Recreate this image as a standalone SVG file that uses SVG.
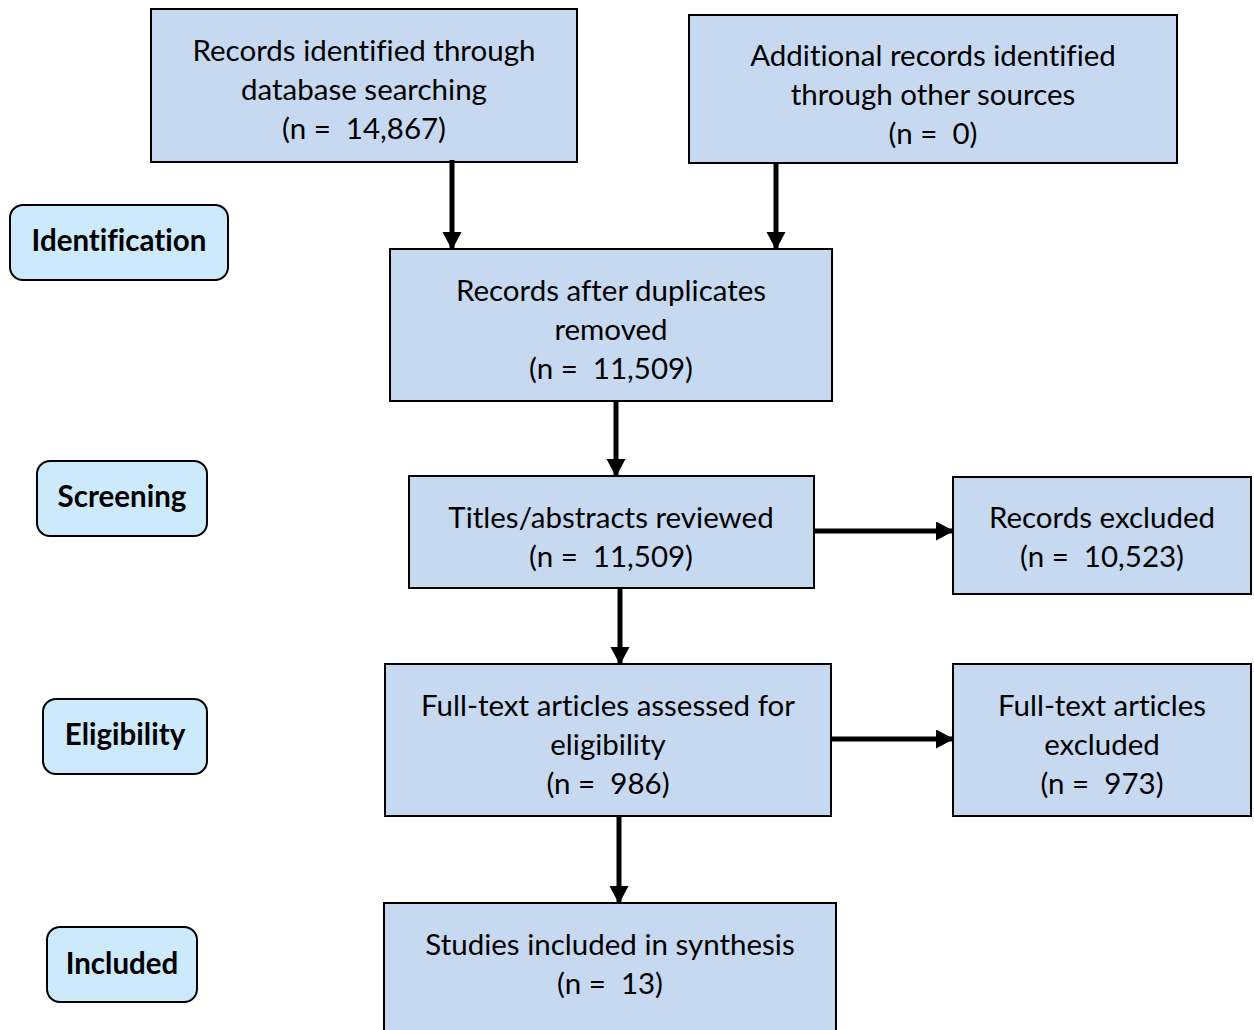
<svg xmlns="http://www.w3.org/2000/svg" width="1254" height="1030" viewBox="0 0 1254 1030">
  <style>
    .box { fill: #c6d9f1; stroke: #000; stroke-width: 2; }
    .stage { fill: #cde9fc; stroke: #000; stroke-width: 2; }
    .t { font-family: Lato, "Liberation Sans", sans-serif; font-size: 29.5px; fill: #000; text-anchor: middle; dominant-baseline: central; font-variant-ligatures: none; }
    .s { font-family: Lato, "Liberation Sans", sans-serif; font-size: 29.5px; font-weight: bold; fill: #000; text-anchor: middle; dominant-baseline: central; font-variant-ligatures: none; }
    .edge { stroke: #000; stroke-width: 5; fill: none; marker-end: url(#head); }
  </style>
  <defs>
    <marker id="head" markerUnits="userSpaceOnUse" markerWidth="20" markerHeight="20" refX="17" refY="9.5" orient="auto">
      <path d="M0,0 L18,9.5 L0,19 Z" fill="#000"/>
    </marker>
  </defs>
  <rect width="1254" height="1030" fill="#fff"/>

  <!-- phase labels -->
  <g id="stage-identification">
    <rect class="stage" x="10" y="205" width="218" height="75" rx="13"/>
    <text class="s" x="119" y="239">Identification</text>
  </g>
  <g id="stage-screening">
    <rect class="stage" x="37" y="461" width="170" height="75" rx="13"/>
    <text class="s" x="122" y="495">Screening</text>
  </g>
  <g id="stage-eligibility">
    <rect class="stage" x="43" y="699" width="164" height="75" rx="13"/>
    <text class="s" x="125" y="733">Eligibility</text>
  </g>
  <g id="stage-included">
    <rect class="stage" x="47" y="927" width="150" height="75" rx="13"/>
    <text class="s" x="122" y="962">Included</text>
  </g>

  <!-- flow boxes -->
  <g id="db-search">
    <rect class="box" x="151" y="9" width="426" height="153"/>
    <text class="t" x="364" y="49">Records identified through</text>
    <text class="t" x="364" y="88">database searching</text>
    <text class="t" x="364" y="127">(n = &#160;14,867)</text>
  </g>
  <g id="other-sources">
    <rect class="box" x="689" y="15" width="488" height="148"/>
    <text class="t" x="933" y="54">Additional records identified</text>
    <text class="t" x="933" y="93">through other sources</text>
    <text class="t" x="933" y="132">(n = &#160;0)</text>
  </g>
  <g id="dedup">
    <rect class="box" x="390" y="249" width="442" height="152"/>
    <text class="t" x="611" y="289">Records after duplicates</text>
    <text class="t" x="611" y="328">removed</text>
    <text class="t" x="611" y="367">(n = &#160;11,509)</text>
  </g>
  <g id="screened">
    <rect class="box" x="409" y="476" width="405" height="112"/>
    <text class="t" x="611" y="516">Titles/abstracts reviewed</text>
    <text class="t" x="611" y="555">(n = &#160;11,509)</text>
  </g>
  <g id="excluded">
    <rect class="box" x="953" y="477" width="298" height="117"/>
    <text class="t" x="1102" y="516">Records excluded</text>
    <text class="t" x="1102" y="555">(n = &#160;10,523)</text>
  </g>
  <g id="fulltext">
    <rect class="box" x="385" y="664" width="446" height="152"/>
    <text class="t" x="608" y="704">Full-text articles assessed for</text>
    <text class="t" x="608" y="743">eligibility</text>
    <text class="t" x="608" y="782">(n = &#160;986)</text>
  </g>
  <g id="fulltext-excluded">
    <rect class="box" x="953" y="664" width="298" height="152"/>
    <text class="t" x="1102" y="704">Full-text articles</text>
    <text class="t" x="1102" y="743">excluded</text>
    <text class="t" x="1102" y="782">(n = &#160;973)</text>
  </g>
  <g id="included">
    <rect class="box" x="384" y="903" width="452" height="140"/>
    <text class="t" x="610" y="943">Studies included in synthesis</text>
    <text class="t" x="610" y="982">(n = &#160;13)</text>
  </g>

  <!-- connectors -->
  <g id="connectors">
    <line class="edge" x1="452" y1="160" x2="452" y2="249"/>
    <line class="edge" x1="776" y1="163" x2="776" y2="249"/>
    <line class="edge" x1="616" y1="401" x2="616" y2="476"/>
    <line class="edge" x1="814" y1="531" x2="953" y2="531"/>
    <line class="edge" x1="620" y1="588" x2="620" y2="664"/>
    <line class="edge" x1="831" y1="739" x2="953" y2="739"/>
    <line class="edge" x1="619" y1="816" x2="619" y2="903"/>
  </g>
</svg>
